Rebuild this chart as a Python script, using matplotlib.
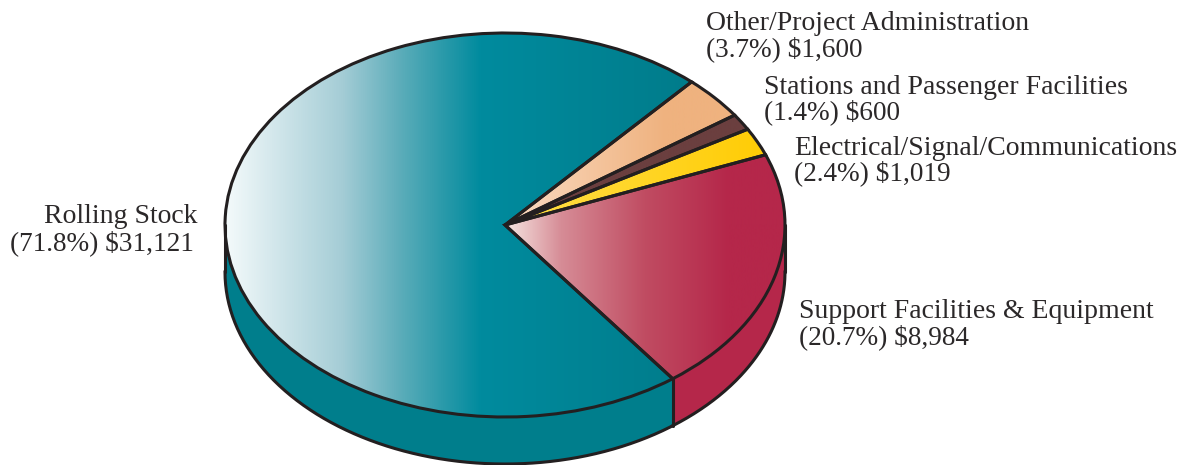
import numpy as np
import matplotlib
matplotlib.use('Agg')
import matplotlib.pyplot as plt
from matplotlib.colors import LinearSegmentedColormap

# data, in pie order (counterclockwise from the upper right)
categories = ['Rolling Stock', 'Support Facilities & Equipment',
              'Electrical/Signal/Communications',
              'Stations and Passenger Facilities', 'Other/Project Administration']
values = [31121, 8984, 1019, 600, 1600]
shares = ['(71.8%) $31,121', '(20.7%) $8,984', '(2.4%) $1,019', '(1.4%) $600', '(3.7%) $1,600']

W, H = 1194, 465
cx, cy, rx, ry, depth = 505, 225, 280, 192, 47
start = 48.2
edge = '#231f20'
txt = '#2b2829'

gradients = [[(0, '#f4fafb'), (0.25, '#a5cdd6'), (0.38, '#5aacb9'), (0.47, '#2a9aaa'),
              (0.55, '#008b9e'), (1, '#007c8b')],
             [(0, '#f6e6e2'), (0.2, '#d68c96'), (0.5, '#c04c62'), (0.8, '#b5274a'), (1, '#b5274a')],
             [(0, '#ffe04a'), (1, '#ffcc05')],
             [(0, '#6b3f3f'), (1, '#6b3f3f')],
             [(0, '#fbdcc4'), (0.7, '#efb27f'), (1, '#efb27f')]]
# gradient extent in picture x
spans = [(225, 690), (505, 785), (505, 765), (505, 745), (505, 735)]
side_colors = ['#007e8c', '#b5274a']

fig = plt.figure(figsize=(W/100, H/100), dpi=100)
ax = fig.add_axes([0, 0, 1, 1])

wedges, _ = ax.pie(values, startangle=start, counterclock=True, radius=1,
                   wedgeprops=dict(edgecolor=edge, linewidth=2.2, zorder=3))
ax.set_aspect('auto')
ax.axis('off')

# gradients clipped to each slice
ramp = np.linspace(0, 1, 512)[None, :]
for w, g, sp in zip(wedges, gradients, spans):
    w.set_facecolor('none')
    cmap = LinearSegmentedColormap.from_list('g', g)
    im = ax.imshow(ramp, cmap=cmap, aspect='auto', zorder=2,
                   extent=[(sp[0]-cx)/rx, (sp[1]-cx)/rx, -1.1, 1.1])
    im.set_clip_path(w)
ax.set_xlim(-cx/rx, (W-cx)/rx)
ax.set_ylim(-(H-cy)/ry, cy/ry)

# the rim below the top face
d = depth/ry
split = start + 360*values[0]/sum(values)
for a0, a1, col in [(180, split, side_colors[0]), (split, 360, side_colors[1])]:
    t = np.radians(np.linspace(a0, a1, 200))
    x = np.cos(t)
    y = np.sin(t)
    ax.fill_between(x, y, y-d, color=col, lw=0, zorder=1)
    ax.plot(x, y-d, color=edge, lw=2.2, zorder=4)
for a in [180, split, 360]:
    xe = np.cos(np.radians(a))
    ye = np.sin(np.radians(a))
    ax.plot([xe, xe], [ye, ye-d], color=edge, lw=2.2, zorder=4, solid_capstyle='round')

# labels
pos = [(197, 216, 194, 243, 'right'), (799, 311, 799, 337, 'left'),
       (794, 148, 794, 173, 'left'), (764, 87, 764, 112, 'left'),
       (706, 24, 706, 49, 'left')]
for c, s, p in zip(categories, shares, pos):
    fig.text(p[0]/W, 1-p[1]/H, c, ha=p[4], va='center', family='Liberation Serif',
             fontsize=20, color=txt)
    fig.text(p[2]/W, 1-p[3]/H, s, ha=p[4], va='center', family='Liberation Serif',
             fontsize=19.6, color=txt)

fig.savefig('out.png', dpi=100)
